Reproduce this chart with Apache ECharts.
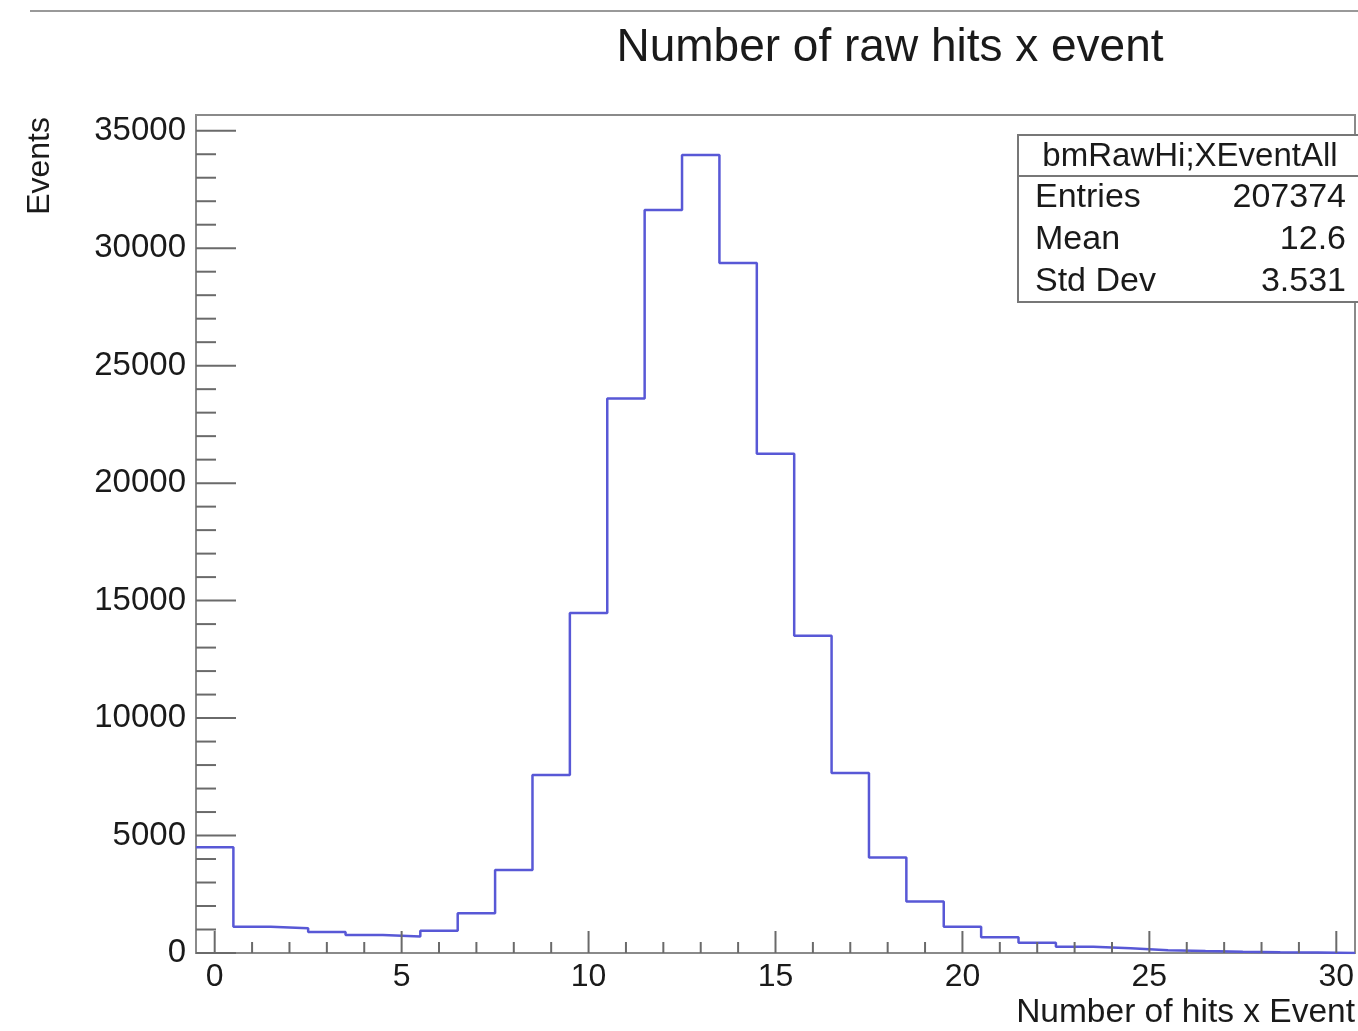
<!DOCTYPE html>
<html><head><meta charset="utf-8">
<script src="https://cdn.jsdelivr.net/npm/echarts@6.0.0/dist/echarts.min.js"></script>
<style>html,body{margin:0;padding:0;background:#fff}#c{width:1358px;height:1031px}</style>
</head><body><div id="c"></div>
<script>
// ---- data ----
const binCenters = [0,1,2,3,4,5,6,7,8,9,10,11,12,13,14,15,16,17,18,19,20,21,22,23,24,25,26,27,28,29,30];
const counts = [4500,1120,1050,890,770,700,950,1690,3530,7580,14470,23600,31630,33970,29370,21250,13500,7660,4060,2190,1120,670,440,270,200,120,80,50,30,20,0];
const xTickValues = [0,1,2,3,4,5,6,7,8,9,10,11,12,13,14,15,16,17,18,19,20,21,22,23,24,25,26,27,28,29,30];
const yTickValues = [0,1000,2000,3000,4000,5000,6000,7000,8000,9000,10000,11000,12000,13000,14000,15000,16000,17000,18000,19000,20000,21000,22000,23000,24000,25000,26000,27000,28000,29000,30000,31000,32000,33000,34000,35000];
const statsTitle = 'bmRawHi;XEventAll';
const statsLabels = ['Entries','Mean','Std Dev'];
const statsValues = ['207374','12.6','3.531'];
const titleText = 'Number of raw hits x event';
const xTitle = 'Number of hits x Event';
const yTitle = 'Events';

const X_MIN = -0.5, X_MAX = 30.5, Y_MAX = 35670;
const FONT = '"Liberation Sans", Arial, Helvetica, sans-serif';
const AXIS_GRAY = '#8a8a8a', TICK_GRAY = '#6a6a6a', TXT = '#1a1a1a';

const stepData = binCenters.map((c, i) => [c - 0.5, counts[i]]);
stepData.push([binCenters[binCenters.length - 1] + 0.5, counts[counts.length - 1]]);

const chart = echarts.init(document.getElementById('c'), null, {renderer: 'canvas'});

const statsGraphics = [
  {type: 'rect', shape: {x: 1018, y: 135, width: 345, height: 167}, style: {fill: '#fff', stroke: '#777', lineWidth: 2}, z: 100},
  {type: 'line', shape: {x1: 1018, y1: 176, x2: 1360, y2: 176}, style: {stroke: '#777', lineWidth: 2}, z: 101},
  {type: 'text', x: 1190, y: 157, style: {text: statsTitle, font: '33px ' + FONT, fill: TXT, align: 'center', verticalAlign: 'middle'}, z: 102}
];
statsLabels.forEach((lab, i) => {
  const y = 198 + i * 42;
  statsGraphics.push({type: 'text', x: 1035, y: y, style: {text: lab, font: '34px ' + FONT, fill: TXT, align: 'left', verticalAlign: 'middle'}, z: 102});
  statsGraphics.push({type: 'text', x: 1346, y: y, style: {text: statsValues[i], font: '34px ' + FONT, fill: TXT, align: 'right', verticalAlign: 'middle'}, z: 102});
});

const option = {
  animation: false,
  backgroundColor: '#fff',
  grid: {left: 196, right: 1, top: 115, bottom: 78, show: true, borderColor: AXIS_GRAY, borderWidth: 2, containLabel: false},
  xAxis: {
    type: 'value', min: X_MIN, max: X_MAX, splitNumber: 6, minInterval: 5, maxInterval: 5,
    axisLine: {show: true, onZero: false, lineStyle: {color: AXIS_GRAY, width: 2}},
    axisTick: {show: false}, minorTick: {show: false}, splitLine: {show: false},
    axisLabel: {margin: 8, color: TXT, fontSize: 32, fontFamily: FONT,
      formatter: v => (Math.abs(v - Math.round(v)) < 1e-9 ? String(Math.round(v)) : '')}
  },
  yAxis: {
    type: 'value', min: 0, max: Y_MAX, interval: 5000,
    axisLine: {show: true, onZero: false, lineStyle: {color: AXIS_GRAY, width: 2}},
    axisTick: {show: false}, minorTick: {show: false}, splitLine: {show: false},
    axisLabel: {margin: 10, color: TXT, fontSize: 33, fontFamily: FONT,
      formatter: v => (v % 5000 === 0 ? String(v) : '')}
  },
  series: [
    {
      type: 'line', data: stepData, step: 'end', symbol: 'none', clip: true, z: 3,
      lineStyle: {color: '#5858d6', width: 2.5}
    },
    {
      type: 'custom', coordinateSystem: 'cartesian2d', clip: false, silent: true, z: 4,
      data: xTickValues.map(v => [v, 0]), encode: {x: 0, y: 1},
      renderItem: (params, api) => {
        const v = api.value(0);
        const p = api.coord([v, api.value(1)]);
        const len = v % 5 === 0 ? 22 : 11;
        return {type: 'line', shape: {x1: p[0], y1: p[1], x2: p[0], y2: p[1] - len}, style: {stroke: TICK_GRAY, lineWidth: 2}};
      }
    },
    {
      type: 'custom', coordinateSystem: 'cartesian2d', clip: false, silent: true, z: 4,
      data: yTickValues.map(v => [X_MIN, v]), encode: {x: 0, y: 1},
      renderItem: (params, api) => {
        const v = api.value(1);
        const p = api.coord([api.value(0), v]);
        const len = v % 5000 === 0 ? 40 : 20;
        return {type: 'line', shape: {x1: p[0], y1: p[1], x2: p[0] + len, y2: p[1]}, style: {stroke: TICK_GRAY, lineWidth: 2}};
      }
    }
  ],
  graphic: [
    {type: 'line', shape: {x1: 30, y1: 11, x2: 1358, y2: 11}, style: {stroke: '#999', lineWidth: 2}},
    {type: 'text', x: 890, y: 48, style: {text: titleText, font: '46px ' + FONT, fill: TXT, align: 'center', verticalAlign: 'middle'}},
    {type: 'text', x: 1355, y: 1013, style: {text: xTitle, font: '33.5px ' + FONT, fill: TXT, align: 'right', verticalAlign: 'middle'}},
    {type: 'text', x: 40, y: 117, rotation: Math.PI / 2, style: {text: yTitle, font: '32px ' + FONT, fill: TXT, align: 'right', verticalAlign: 'middle'}}
  ].concat(statsGraphics)
};
chart.setOption(option);
</script>
</body></html>
